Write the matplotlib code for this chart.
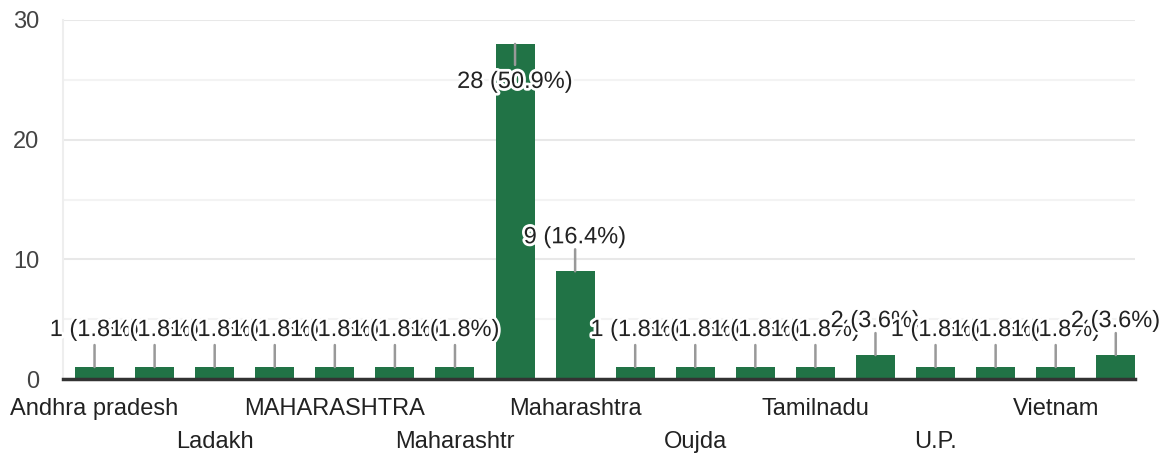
import matplotlib
matplotlib.use("Agg")
import matplotlib.pyplot as plt
import matplotlib.patheffects as pe

# Categories (only every other label is shown in the reference; hidden ones left blank)
categories = ["Andhra pradesh", "", "Ladakh", "", "MAHARASHTRA", "", "Maharashtr", "",
              "Maharashtra", "", "Oujda", "", "Tamilnadu", "", "U.P.", "", "Vietnam", ""]
values = [1, 1, 1, 1, 1, 1, 1, 28, 9, 1, 1, 1, 1, 2, 1, 1, 1, 2]
yticks = [0, 10, 20, 30]

plt.rcParams['font.family'] = ['Liberation Sans', 'DejaVu Sans']

W, H = 1161, 453
fig = plt.figure(figsize=(W / 100, H / 100), dpi=100)
ax = fig.add_axes([63 / W, 1 - 379 / H, (1135 - 63) / W, (379 - 20) / H])

bar_color = "#217346"
x = list(range(len(values)))
ax.bar(x, values, width=0.65, color=bar_color, zorder=2)

ax.set_xlim(-0.525, 17.32)
ax.set_ylim(0, 30)

FS = 17

# grid
for v in [5, 15, 25]:
    ax.axhline(v, color="#f3f3f3", lw=1.5, zorder=0)
for v in [10, 20, 30]:
    ax.axhline(v, color="#e8e8e8", lw=1.5, zorder=0)

for s in ["top", "right"]:
    ax.spines[s].set_visible(False)
ax.spines["left"].set_color("#eeeeee")
ax.spines["left"].set_linewidth(1.5)
ax.spines["bottom"].set_color("#333333")
ax.spines["bottom"].set_linewidth(2.5)
ax.spines["bottom"].set_zorder(3)

ax.set_yticks(yticks)
ax.set_yticklabels([str(t) for t in yticks], fontsize=FS, color="#444444")
ax.tick_params(axis="y", length=0, pad=17)

# x labels staggered in two rows
labels = []
for i, c in enumerate(categories):
    if i % 4 == 0:
        labels.append(c)
    elif i % 4 == 2:
        labels.append("\n" + c)
    else:
        labels.append("")
ax.set_xticks(x)
ax.set_xticklabels(labels, fontsize=FS, color="#222222", linespacing=1.6, va="top")
ax.tick_params(axis="x", length=0, pad=14)

total = sum(values)
halo = [pe.withStroke(linewidth=4, foreground="white")]
for i, v in enumerate(values):
    pct = 100 * v / total
    txt = f"{v} ({pct:.1f}%)"
    if v >= 20:
        lead, toff = -21, -38
    elif v == 1:
        lead, toff = 22, 37
    else:
        lead, toff = 22, 34
    ax.annotate("", xy=(i, v), xytext=(0, lead), textcoords="offset pixels",
                arrowprops=dict(arrowstyle="-", color="#999999", lw=1.8,
                                shrinkA=0, shrinkB=0), zorder=4)
    ax.annotate(txt, xy=(i, v), xytext=(0, toff), textcoords="offset pixels",
                ha="center", va="center", fontsize=FS, color="#222222",
                path_effects=halo, zorder=5 + i, annotation_clip=False)

fig.savefig("out.png", dpi=100, facecolor="white")
